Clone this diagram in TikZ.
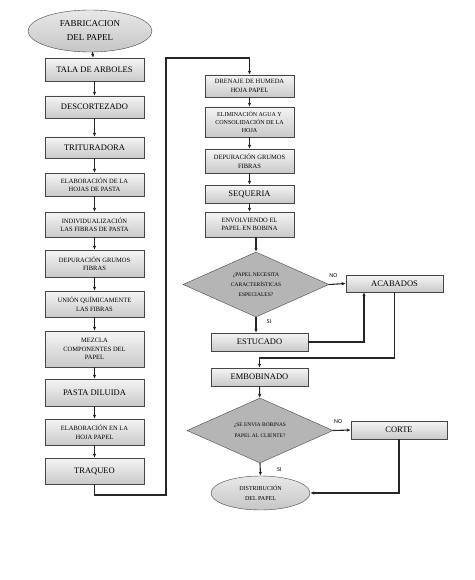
\documentclass[tikz,border=0pt]{standalone}
\usepackage{fontspec}
\setmainfont{Liberation Serif}
\newfontfamily\etiqfont{Carlito}
\usetikzlibrary{shapes.geometric,arrows.meta}

\tikzset{
  caja/.style={rectangle, draw=gray!55!black, top color=gray!8, bottom color=gray!42,
    minimum width=99pt, inner sep=1pt, align=center, font=\fontsize{6.5}{8.5}\selectfont},
  cajader/.style={caja, minimum width=89pt},
  cajagrande/.style={font=\fontsize{8.5}{10}\selectfont},
  rombo/.style={diamond, draw=gray!55!black, fill=gray!58, shape aspect=2.2, inner sep=0pt,
    minimum width=146pt, minimum height=65pt, align=center, font=\fontsize{5.5}{10}\selectfont},
  elipse/.style={ellipse, draw=gray!55!black, top color=gray!18, bottom color=gray!45,
    inner sep=0pt, align=center},
  linea/.style={draw=black!85, line width=1.1pt},
  flecha/.style={linea, -{Latex[length=4pt,width=3.5pt]}},
  etiqueta/.style={font=\etiqfont\fontsize{6}{7}\selectfont}
}

\begin{document}
\begin{tikzpicture}[x=1pt,y=-1pt]
        \useasboundingbox (0,0) rectangle (474,580);
        % columna izquierda
        \node[elipse, minimum width=124pt, minimum height=42pt, font=\fontsize{9}{14}\selectfont]
            (inicio) at (90,31) {FABRICACION\\DEL PAPEL};
        \node[caja, cajagrande, minimum height=23pt] (tala) at (94.5,69.5) {TALA DE ARBOLES};
        \node[caja, cajagrande, minimum height=22pt] (descort) at (94.5,107) {DESCORTEZADO};
        \node[caja, cajagrande, minimum height=21pt] (tritur) at (94.5,147.5) {TRITURADORA};
        \node[caja, minimum height=23pt] (elab) at (94.5,184.5) {ELABORACIÓN DE LA\\HOJAS DE PASTA};
        \node[caja, minimum height=25pt] (indiv) at (94.5,224.5) {INDIVIDUALIZACIÓN\\LAS FIBRAS DE PASTA};
        \node[caja, minimum height=27pt] (depur) at (94.5,263.5) {DEPURACIÓN GRUMOS\\FIBRAS};
        \node[caja, minimum height=26pt] (union) at (94.5,304) {UNIÓN QUÍMICAMENTE\\LAS FIBRAS};
        \node[caja, minimum height=36pt] (mezcla) at (94.5,349) {MEZCLA\\COMPONENTES DEL\\PAPEL};
        \node[caja, cajagrande, minimum height=27pt] (pasta) at (94.5,392.5) {PASTA DILUIDA};
        \node[caja, minimum height=26pt] (elabhoja) at (94.5,432) {ELABORACIÓN EN LA\\HOJA PAPEL};
        \node[caja, cajagrande, minimum height=26pt] (traqueo) at (94.5,471) {TRAQUEO};
        % columna derecha
        \node[cajader, minimum height=22pt] (drenaje) at (249.5,86) {DRENAJE DE HUMEDA\\HOJA PAPEL};
        \node[cajader, minimum height=30pt, font=\fontsize{6}{8}\selectfont] (elimina) at (249.5,122)
            {ELIMINACIÓN AGUA Y\\CONSOLIDACIÓN DE LA\\HOJA};
        \node[cajader, minimum height=24pt] (depurdos) at (249.5,161) {DEPURACIÓN GRUMOS\\FIBRAS};
        \node[cajader, cajagrande, minimum height=18pt] (sequeria) at (249.5,194) {SEQUERIA};
        \node[cajader, minimum height=25pt] (envolv) at (249.5,224.5) {ENVOLVIENDO EL\\PAPEL EN BOBINA};
        \node[rombo] (decuno) at (256,284.5) {¿PAPEL NECESITA\\CARACTERÍSTICAS\\ESPECIALES?};
        \node[caja, cajagrande, minimum width=97pt, minimum height=17pt] (acabados) at (394.5,283.5) {ACABADOS};
        \node[caja, cajagrande, minimum width=97pt, minimum height=18pt] (estucado) at (259.5,342) {ESTUCADO};
        \node[caja, cajagrande, minimum width=97pt, minimum height=18pt] (embob) at (259.5,377) {EMBOBINADO};
        \node[rombo, font=\fontsize{5.4}{11}\selectfont] (decdos) at (260,430.5) {¿SE ENVIA BOBINAS\\PAPEL AL CLIENTE?};
        \node[caja, cajagrande, minimum width=96pt, minimum height=18pt] (corte) at (399,430) {CORTE};
        \node[elipse, minimum width=99pt, minimum height=34pt, font=\fontsize{6}{10}\selectfont]
            (fin) at (260.5,493) {DISTRIBUCIÓN\\DEL PAPEL};
        % puntos de quiebre
        \coordinate (qa) at (166,495);
        \coordinate (qb) at (166,58);
        \coordinate (qc) at (364,0);
        \coordinate (qd) at (259.5,358);
        % flechas
        \draw[flecha] (inicio) -- (tala);
        \draw[flecha] (tala) -- (descort);
        \draw[flecha] (descort) -- (tritur);
        \draw[flecha] (tritur) -- (elab);
        \draw[flecha] (elab) -- (indiv);
        \draw[flecha] (indiv) -- (depur);
        \draw[flecha] (depur) -- (union);
        \draw[flecha] (union) -- (mezcla);
        \draw[flecha] (mezcla) -- (pasta);
        \draw[flecha] (pasta) -- (elabhoja);
        \draw[flecha] (elabhoja) -- (traqueo);
        \draw[flecha] (traqueo.south) |- (qa) -- (qb) -| (drenaje.north);
        \draw[flecha] (drenaje) -- (elimina);
        \draw[flecha] (elimina) -- (depurdos);
        \draw[flecha] (depurdos) -- (sequeria);
        \draw[flecha] (sequeria) -- (envolv);
        \draw[flecha] (envolv.south -| decuno.north) -- (decuno.north);
        \draw[flecha] (decuno.east) -- node[etiqueta, above=3pt, pos=0.25]{NO} (acabados.west);
        \draw[flecha] (decuno.south) -- node[etiqueta, right=7pt, pos=0.25]{SI} (decuno.south |- estucado.north);
        \draw[flecha] (estucado.east) -| (acabados.south -| qc);
        \draw[flecha] (acabados.south) |- (qd) -- (embob.north);
        \draw[flecha] (embob) -- (decdos);
        \draw[flecha] (decdos.east) -- node[etiqueta, above=3pt, pos=0.28]{NO} (corte.west);
        \draw[flecha] (decdos.south) -- node[etiqueta, right=13pt, pos=0.5]{SI} (fin.north);
        \draw[flecha] (corte.south) |- (fin.east);
\end{tikzpicture}
\end{document}
